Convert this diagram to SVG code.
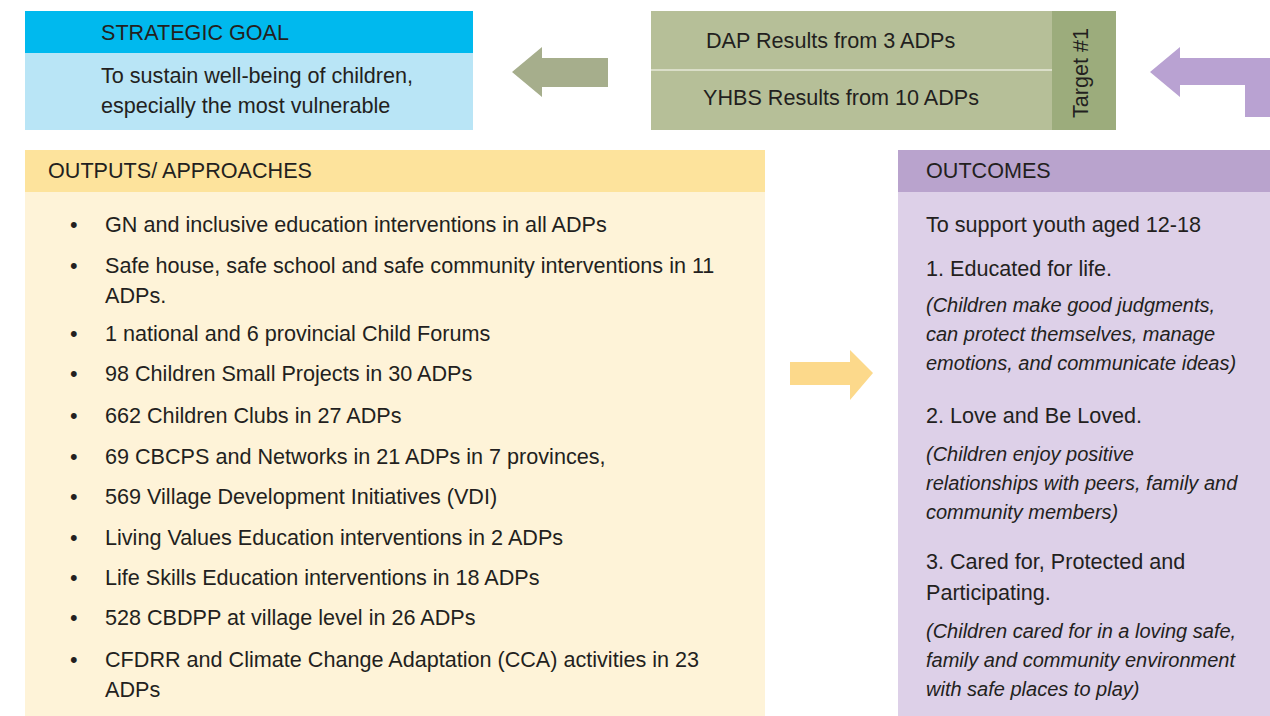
<svg xmlns="http://www.w3.org/2000/svg" width="1270" height="716" viewBox="0 0 1270 716">
<style>
text{font-family:"Liberation Sans",Arial,sans-serif;fill:#231f20;font-size:21.6px}
.h{font-size:21.6px}
.b{font-size:21.6px}
.i{font-size:20px;font-style:italic}
</style>
<rect width="1270" height="716" fill="#ffffff"/>
<g id="strategic-goal">
<rect x="25" y="11" width="448" height="42" fill="#00b9ee"/>
<rect x="25" y="53" width="448" height="77" fill="#b9e5f6"/>
<text class="h" x="101" y="40">STRATEGIC GOAL</text>
<text class="b" x="101" y="83">To sustain well-being of children,</text>
<text class="b" x="101" y="113">especially the most vulnerable</text>
</g>
<g id="target">
<rect x="651" y="11" width="401" height="119" fill="#b6bf98"/>
<line x1="651" y1="70" x2="1052" y2="70" stroke="#e6e9d8" stroke-width="1.5"/>
<rect x="1052" y="11" width="64" height="119" fill="#9cac7c"/>
<text class="b" x="706" y="48">DAP Results from 3 ADPs</text>
<text class="b" x="703" y="105">YHBS Results from 10 ADPs</text>
<text class="b" transform="translate(1088,73) rotate(-90)" text-anchor="middle" font-size="19">Target #1</text>
</g>
<g id="outputs">
<rect x="25" y="150" width="740" height="42" fill="#fde39c"/>
<rect x="25" y="192" width="740" height="524" fill="#fef3d8"/>
<text class="h" x="48" y="178">OUTPUTS/ APPROACHES</text>
<g class="b">
<text x="70" y="232">•</text><text x="105" y="232">GN and inclusive education interventions in all ADPs</text>
<text x="70" y="273">•</text><text x="105" y="273">Safe house, safe school and safe community interventions in 11</text>
<text x="105" y="303">ADPs.</text>
<text x="70" y="341">•</text><text x="105" y="341">1 national and 6 provincial Child Forums</text>
<text x="70" y="381">•</text><text x="105" y="381">98 Children Small Projects in 30 ADPs</text>
<text x="70" y="423">•</text><text x="105" y="423">662 Children Clubs in 27 ADPs</text>
<text x="70" y="464">•</text><text x="105" y="464">69 CBCPS and Networks in 21 ADPs in 7 provinces,</text>
<text x="70" y="504">•</text><text x="105" y="504">569 Village Development Initiatives (VDI)</text>
<text x="70" y="545">•</text><text x="105" y="545">Living Values Education interventions in 2 ADPs</text>
<text x="70" y="585">•</text><text x="105" y="585">Life Skills Education interventions in 18 ADPs</text>
<text x="70" y="625">•</text><text x="105" y="625">528 CBDPP at village level in 26 ADPs</text>
<text x="70" y="667">•</text><text x="105" y="667">CFDRR and Climate Change Adaptation (CCA) activities in 23</text>
<text x="105" y="697">ADPs</text>
</g>
</g>
<g id="outcomes">
<rect x="898" y="150" width="372" height="42" fill="#b9a3cd"/>
<rect x="898" y="192" width="372" height="524" fill="#ddd0e8"/>
<text class="h" x="926" y="178">OUTCOMES</text>
<text class="b" x="926" y="232">To support youth aged 12-18</text>
<text class="b" x="926" y="276">1. Educated for life.</text>
<text class="i" x="926" y="312">(Children make good judgments,</text>
<text class="i" x="926" y="341">can protect themselves, manage</text>
<text class="i" x="926" y="370">emotions, and communicate ideas)</text>
<text class="b" x="926" y="423">2. Love and Be Loved.</text>
<text class="i" x="926" y="461">(Children enjoy positive</text>
<text class="i" x="926" y="490">relationships with peers, family and</text>
<text class="i" x="926" y="519">community members)</text>
<text class="b" x="926" y="569">3. Cared for, Protected and</text>
<text class="b" x="926" y="600">Participating.</text>
<text class="i" x="926" y="638">(Children cared for in a loving safe,</text>
<text class="i" x="926" y="667">family and community environment</text>
<text class="i" x="926" y="696">with safe places to play)</text>
</g>
<g id="connectors">
<path d="M608,58 L542,58 L542,47 L512,72 L542,97 L542,87 L608,87 Z" fill="#a6ae8c"/>
<path d="M1270,58 L1180,58 L1180,47 L1150,72 L1180,97 L1180,85 L1245,85 L1245,117 L1270,117 Z" fill="#b9a2d2"/>
<path d="M790,362 L850,362 L850,350 L873,373 L850,400 L850,385 L790,385 Z" fill="#fcd98b"/>
</g>
</svg>
